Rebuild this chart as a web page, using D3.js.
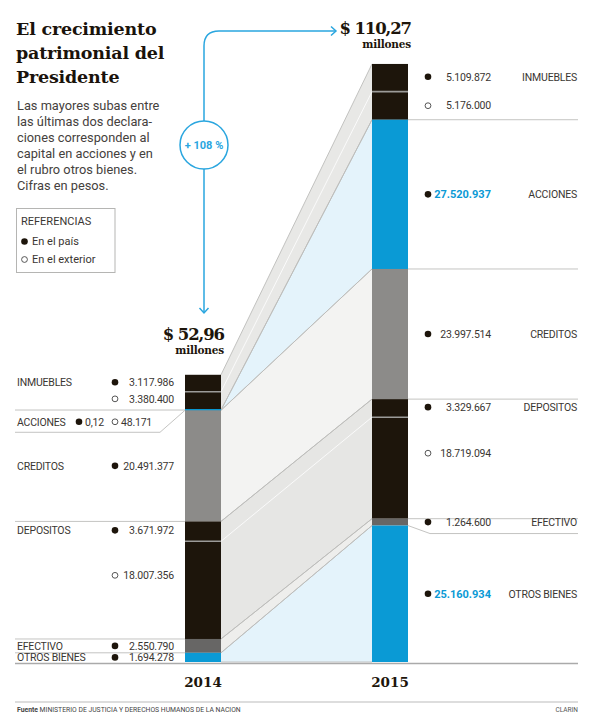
<!DOCTYPE html>
<html><head><meta charset="utf-8">
<script src="https://cdn.jsdelivr.net/npm/d3@7"></script>
<style>body{margin:0;background:#fff}svg{display:block}</style>
</head><body>
<script>
// ---------- DATA ----------
const years = ["2014", "2015"];
const categories = ["INMUEBLES", "ACCIONES", "CREDITOS", "DEPOSITOS", "EFECTIVO", "OTROS BIENES"];
const pais2014 = [3117986, 0.12, 20491377, 3671972, 2550790, 1694278];
const ext2014  = [3380400, 48171, 0, 18007356, 0, 0];
const pais2015 = [5109872, 27520937, 23997514, 3329667, 1264600, 25160934];
const ext2015  = [5176000, 0, 0, 18719094, 0, 0];
const totalLabels = ["$ 52,96", "$ 110,27"];
const growthLabel = "+ 108 %";
const highlighted = ["ACCIONES", "OTROS BIENES"];
const titleLines = ["El crecimiento", "patrimonial del", "Presidente"];
const subtitleLines = ["Las mayores subas entre", "las últimas dos declara-", "ciones corresponden al",
  "capital en acciones y en", "el rubro otros bienes.", "Cifras en pesos."];
const legendTitle = "REFERENCIAS";
const legendItems = ["En el país", "En el exterior"];
const source = "MINISTERIO DE JUSTICIA Y DERECHOS HUMANOS DE LA NACION";

// ---------- STYLE ----------
const SANS = "Roboto, 'Noto Sans', sans-serif";
const SERIF = "'DejaVu Serif', serif";
const DARK = "#1d150b", BLUE = "#0a9ad5", TXT = "#3a3632";
const barColor = {"INMUEBLES": DARK, "ACCIONES": BLUE, "CREDITOS": "#8c8b89", "DEPOSITOS": DARK, "EFECTIVO": "#676665", "OTROS BIENES": BLUE};
const bandColor = {"INMUEBLES": "#e8e8e6", "ACCIONES": "#e4f3fb", "CREDITOS": "#f3f3f2", "DEPOSITOS": "#e6e6e4", "EFECTIVO": "#eeeeec", "OTROS BIENES": "#e4f3fb"};
const LINE = "#c4c4c2";

const locale = d3.formatLocale({decimal: ",", thousands: ".", grouping: [3], currency: ["$", ""]});
const fmtInt = locale.format(",d"), fmtDec = locale.format(",.2f");
const fmt = v => v < 1 ? fmtDec(v) : fmtInt(v);

const svg = d3.select("body").append("svg").attr("width", 600).attr("height", 724);

// ---------- SCALES ----------
const y = d3.scaleLinear().domain([0, 110.27e6]).range([662, 64]);
const x = d3.scaleBand().domain(years).range([185, 408]).paddingInner(0.8075);
const bw = x.bandwidth();

function stack(pais, ext) {
  const out = {}; let acc = 0;
  for (let i = categories.length - 1; i >= 0; i--) {
    const c = categories[i];
    const e0 = acc, e1 = acc + ext[i], p1 = e1 + pais[i];
    out[c] = {bottom: e0, split: e1, top: p1, pais: pais[i], ext: ext[i]};
    acc = p1;
  }
  return out;
}
const S = {"2014": stack(pais2014, ext2014), "2015": stack(pais2015, ext2015)};

// ---------- BANDS ----------
const xl = x("2014") + bw, xr = x("2015");
const bands = svg.append("g");
categories.forEach(c => {
  const a = S["2014"][c], b = S["2015"][c];
  bands.append("path")
    .attr("d", `M${xl},${y(a.top)}L${xr},${y(b.top)}L${xr},${y(b.bottom)}L${xl},${y(a.bottom)}Z`)
    .attr("fill", bandColor[c]);
  if (a.ext > 0 && b.ext > 0 && a.pais > 1) {
    bands.append("line").attr("x1", xl).attr("y1", y(a.split)).attr("x2", xr).attr("y2", y(b.split))
      .attr("stroke", "#fafafa").attr("stroke-width", 1);
  }
});
categories.forEach(c => {
  const a = S["2014"][c], b = S["2015"][c];
  ["top", "bottom"].forEach(k => {
    bands.append("line").attr("x1", xl).attr("y1", y(a[k])).attr("x2", xr).attr("y2", y(b[k]))
      .attr("stroke", "#bcbcba").attr("stroke-width", 0.9);
  });
});

// ---------- BARS ----------
years.forEach(yr => {
  const g = svg.append("g");
  categories.forEach(c => {
    const s = S[yr][c];
    const raw = y(s.bottom) - y(s.top);
    const h = Math.max(raw, 2);
    g.append("rect").attr("x", x(yr)).attr("y", y(s.top) - (h > raw ? 1 : 0))
      .attr("width", bw).attr("height", h).attr("fill", barColor[c]);
    if (s.ext > 0 && s.pais > 1) {
      g.append("line").attr("x1", x(yr)).attr("x2", x(yr) + bw).attr("y1", y(s.split)).attr("y2", y(s.split))
        .attr("stroke", "#9c9b99").attr("stroke-width", 1.6);
    }
  });
  svg.append("text").attr("x", x(yr) + bw / 2).attr("y", 687).attr("text-anchor", "middle")
    .attr("font-family", SERIF).attr("font-weight", "bold").attr("font-size", 13.5).attr("fill", DARK).text(yr);
});

// ---------- DIVIDER LINES ----------
const lines = svg.append("g").attr("stroke", LINE).attr("stroke-width", 1).attr("fill", "none");
const L = S["2014"], R = S["2015"];
const accRowY = y(L["ACCIONES"].bottom) + 22;
[y(L["INMUEBLES"].bottom), y(L["DEPOSITOS"].top), y(L["EFECTIVO"].top), y(L["OTROS BIENES"].top)].forEach(v =>
  lines.append("line").attr("x1", 15).attr("x2", x("2014")).attr("y1", v).attr("y2", v));
lines.append("path").attr("d", `M15,${accRowY}H160L${x("2014")},${y(L["ACCIONES"].bottom)}`);
const rx = x("2015") + bw;
[y(R["INMUEBLES"].bottom), y(R["ACCIONES"].bottom), y(R["CREDITOS"].bottom), y(R["DEPOSITOS"].bottom)].forEach(v =>
  lines.append("line").attr("x1", rx).attr("x2", 578).attr("y1", v).attr("y2", v));
lines.append("path").attr("d", `M${rx},${y(R["EFECTIVO"].bottom)}L430,${y(R["EFECTIVO"].bottom) + 8}H578`);
svg.append("line").attr("x1", 15).attr("x2", 578).attr("y1", y(0) + 1.5).attr("y2", y(0) + 1.5)
  .attr("stroke", "#aaa").attr("stroke-width", 1.5);

// ---------- LABELS ----------
function txt(g, xx, yy, s, opt = {}) {
  return g.append("text").attr("x", xx).attr("y", yy).attr("dy", "0.36em")
    .attr("text-anchor", opt.anchor || "start").attr("font-family", SANS)
    .attr("font-size", opt.size || 10.5).attr("font-weight", opt.bold ? "bold" : "normal")
    .attr("letter-spacing", opt.ls != null ? opt.ls : -0.2)
    .attr("fill", opt.fill || TXT).text(s);
}
function dot(g, xx, yy, filled) {
  g.append("circle").attr("cx", xx).attr("cy", yy).attr("r", filled ? 3.3 : 2.9)
    .attr("fill", filled ? DARK : "#fff").attr("stroke", filled ? "none" : "#444").attr("stroke-width", 0.9);
}
const lab = svg.append("g");
const mid = (a, b) => (y(a) + y(b)) / 2;
const extY = s => y(s.split) + Math.min((y(s.bottom) - y(s.split)) / 2, 36);
// left (2014)
categories.forEach(c => {
  const s = L[c];
  if (c === "ACCIONES") {
    const yy = accRowY - 10.5;
    txt(lab, 17, yy, c);
    dot(lab, 79, yy, true); txt(lab, 85, yy, fmt(s.pais));
    dot(lab, 115, yy, false); txt(lab, 121, yy, fmt(s.ext));
    return;
  }
  const yp = s.ext > 0 ? mid(s.top, s.split) - 1 : mid(s.top, s.bottom);
  txt(lab, 17, yp, c);
  dot(lab, 115, yp, true); txt(lab, 174, yp, fmt(s.pais), {anchor: "end"});
  if (s.ext > 0) {
    const ye = extY(s) - 2;
    dot(lab, 115, ye, false); txt(lab, 174, ye, fmt(s.ext), {anchor: "end"});
  }
});
// right (2015)
categories.forEach(c => {
  const s = R[c];
  const yp = s.ext > 0 ? mid(s.top, s.split) - 1 : mid(s.top, s.bottom);
  const hl = highlighted.includes(c);
  txt(lab, 577, yp, c, {anchor: "end"});
  dot(lab, 428, yp, true);
  txt(lab, 491, yp, fmt(s.pais), {anchor: "end", bold: hl, fill: hl ? BLUE : TXT, size: hl ? 11 : 10.5, ls: hl ? 0 : -0.2});
  if (s.ext > 0) {
    const ye = extY(s);
    dot(lab, 428, ye, false); txt(lab, 491, ye, fmt(s.ext), {anchor: "end"});
  }
});

// ---------- TOTALS ----------
[["2014", y(L["INMUEBLES"].top) - 35], ["2015", y(R["INMUEBLES"].top) - 30]].forEach(([yr, by], i) => {
  const xe = x(yr) + bw + 3;
  svg.append("text").attr("x", xe).attr("y", by).attr("text-anchor", "end").attr("font-family", SERIF)
    .attr("font-weight", "bold").attr("font-size", 16.5).attr("letter-spacing", -1.1).attr("fill", DARK).text(totalLabels[i]);
  svg.append("text").attr("x", xe).attr("y", by + 14).attr("text-anchor", "end").attr("font-family", SERIF)
    .attr("font-weight", "bold").attr("font-size", 10.5).attr("letter-spacing", -0.2).attr("fill", DARK).text("millones");
});

// ---------- ARROW ----------
const AB = "#2aa6df";
svg.append("path").attr("d", "M336,31H219Q204,31 204,46V313").attr("fill", "none").attr("stroke", AB).attr("stroke-width", 1.5);
svg.append("path").attr("d", "M331,26.5L336,31L331,35.5").attr("fill", "none").attr("stroke", AB).attr("stroke-width", 1.5);
svg.append("path").attr("d", "M199.5,308L204,313L208.5,308").attr("fill", "none").attr("stroke", AB).attr("stroke-width", 1.5);
svg.append("circle").attr("cx", 204).attr("cy", 145).attr("r", 24).attr("fill", "#fff").attr("stroke", AB).attr("stroke-width", 1.5);
svg.append("text").attr("x", 204).attr("y", 145).attr("dy", "0.36em").attr("text-anchor", "middle")
  .attr("font-family", SANS).attr("font-weight", "bold").attr("font-size", 11).attr("fill", AB).text(growthLabel);

// ---------- TITLE ----------
titleLines.forEach((t, i) => svg.append("text").attr("x", 16).attr("y", 35 + i * 24.2)
  .attr("font-family", SERIF).attr("font-weight", "bold").attr("font-size", 17.5).attr("letter-spacing", -0.2).attr("fill", "#1a130b").text(t));
subtitleLines.forEach((t, i) => svg.append("text").attr("x", 17).attr("y", 110 + i * 16)
  .attr("font-family", SANS).attr("font-size", 12.8).attr("fill", "#45413d").text(t));

// ---------- LEGEND ----------
svg.append("rect").attr("x", 16.5).attr("y", 208.5).attr("width", 98.5).attr("height", 64)
  .attr("fill", "none").attr("stroke", "#b5b5b3").attr("stroke-width", 1);
svg.append("text").attr("x", 21).attr("y", 225).attr("font-family", SANS).attr("font-size", 11).attr("fill", TXT).text(legendTitle);
legendItems.forEach((t, i) => {
  const yy = 241.5 + i * 18;
  dot(svg, 24.5, yy, i === 0);
  txt(svg, 32, yy, t, {size: 11, ls: 0});
});

// ---------- FOOTER ----------
svg.append("line").attr("x1", 15).attr("x2", 578).attr("y1", 702).attr("y2", 702).attr("stroke", "#bbb").attr("stroke-width", 1);
const ft = svg.append("text").attr("x", 17).attr("y", 712).attr("font-family", SANS).attr("font-size", 6.8).attr("fill", "#444");
ft.append("tspan").attr("font-weight", "bold").text("Fuente ");
ft.append("tspan").text(" " + source);
svg.append("text").attr("x", 578).attr("y", 712).attr("text-anchor", "end").attr("font-family", SANS)
  .attr("font-size", 6.5).attr("fill", "#555").text("CLARIN");
</script>
</body></html>
